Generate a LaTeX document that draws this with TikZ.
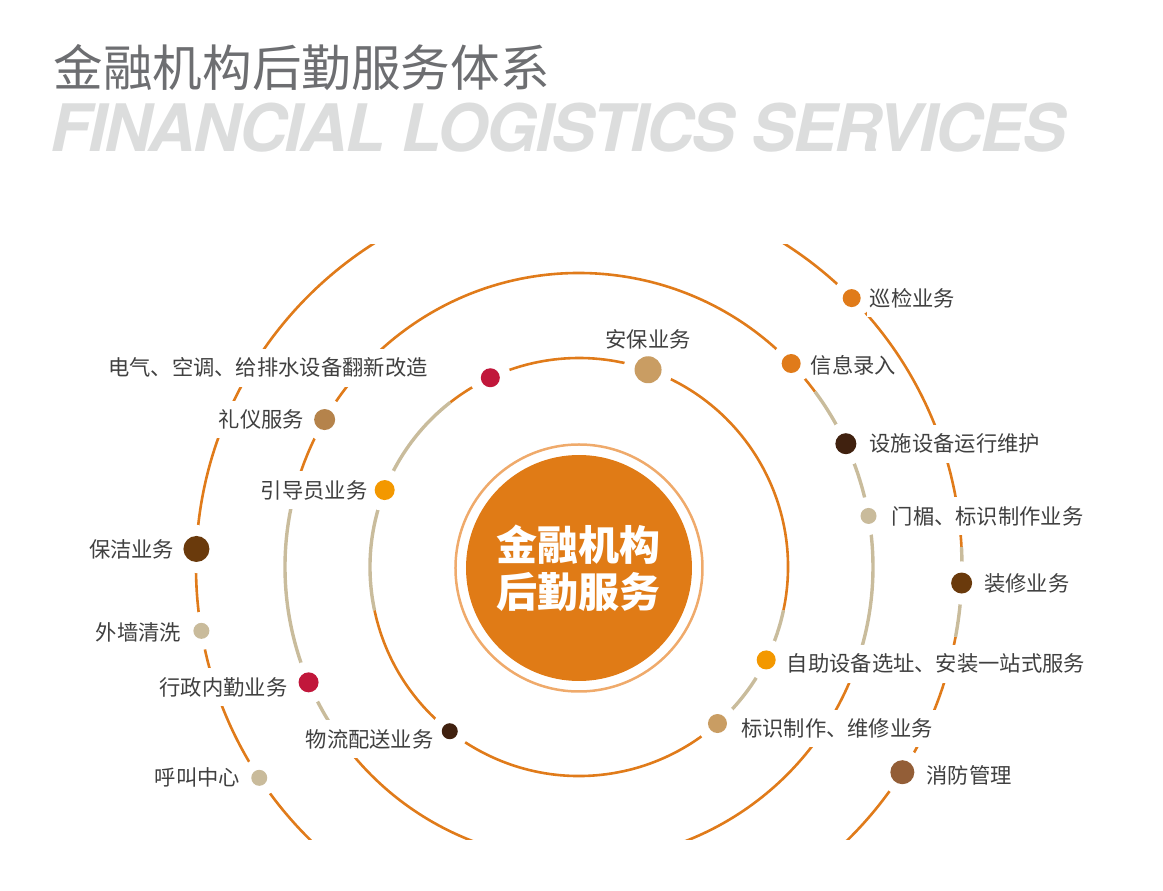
\documentclass[tikz,border=0pt]{standalone}
\usepackage{fontspec}
\newfontfamily\cjk{Noto Sans CJK SC}
\newfontfamily\heros[LetterSpace=-3.1]{TeX Gyre Heros}
\usetikzlibrary{positioning}

\definecolor{ringOrange}{HTML}{E07B1A}
\definecolor{ringBeige}{HTML}{C9BC9C}
\definecolor{coreOrange}{HTML}{E07B16}
\definecolor{coreRing}{HTML}{EFAA6B}
\definecolor{titleGray}{HTML}{6D6E71}
\definecolor{ghostGray}{HTML}{DCDDDD}
\definecolor{labelGray}{HTML}{404040}
\definecolor{dotRed}{HTML}{C1173B}
\definecolor{dotTan}{HTML}{C99D63}
\definecolor{dotAmber}{HTML}{F39800}
\definecolor{dotOrange}{HTML}{E07B1A}
\definecolor{dotDark}{HTML}{40210F}
\definecolor{dotBrown}{HTML}{6A3A0C}
\definecolor{dotCopper}{HTML}{B5834B}
\definecolor{dotRust}{HTML}{935E37}
\definecolor{dotSand}{HTML}{C9BB9B}

\tikzset{
  ringO/.style={ringOrange, line width=2.6pt},
  ringB/.style={ringBeige, line width=3.4pt},
  dot/.style={circle, inner sep=0pt, outer sep=0pt, preaction={draw=white, line width=22pt}},
  lbl/.style={fill=white, text=labelGray, inner xsep=3pt, inner ysep=9pt, font=\cjk\fontsize{21.3}{24}\selectfont},
}

\begin{document}
\begin{tikzpicture}[x=1pt, y=1pt]
    \useasboundingbox (-579,-324) rectangle (584,567);
    % heading
    \node[anchor=west, inner sep=0pt, text=titleGray, font=\cjk\fontsize{49.6}{50}\selectfont] (title) at (-525.5,499) {金融机构后勤服务体系};
    \node[anchor=base west, inner sep=0pt, text=ghostGray, font=\heros\bfseries\itshape\fontsize{65.5}{66}\selectfont] (subtitle) at (-529,415) {FINANCIAL LOGISTICS SERVICES};

    % rings
    \begin{scope}
    \clip (-579,-273) rectangle (584,322);
    % outer ring
    \draw[ringO] (3:383) arc[start angle=3, end angle=349.5, radius=383];
    \draw[ringB] (-10.5:383) arc[start angle=-10.5, end angle=3, radius=383];
    % middle ring
    \draw[ringO] (36.6:294) arc[start angle=36.6, end angle=165, radius=294];
    \draw[ringB] (165:294) arc[start angle=165, end angle=215, radius=294];
    \draw[ringO] (215:294) arc[start angle=215, end angle=340, radius=294];
    \draw[ringB] (340:294) arc[start angle=340, end angle=396.6, radius=294];
    % inner ring
    \draw[ringO] (-12:209) arc[start angle=-12, end angle=128, radius=209];
    \draw[ringB] (128:209) arc[start angle=128, end angle=192, radius=209];
    \draw[ringO] (192:209) arc[start angle=192, end angle=311.5, radius=209];
    \draw[ringB] (311.5:209) arc[start angle=311.5, end angle=348, radius=209];
    \end{scope}

    % centre
    \draw[coreRing, line width=2.5pt] (0,-1) circle (123.5);
    \node[circle, fill=coreOrange, minimum size=226pt, inner sep=0pt, text=white, align=center, font=\cjk\bfseries\fontsize{41}{47}\selectfont] (core) at (0,-1) {金融机构\\后勤服务};

    % inner ring dots
    \node[dot, fill=dotTan, minimum size=27pt] (anbao) at (70.7:209) {};
    \node[dot, fill=dotRed, minimum size=19pt] (fanxin) at (115.1:209) {};
    \node[dot, fill=dotAmber, minimum size=20pt] (yindao) at (158.4:209) {};
    \node[dot, fill=dotDark, minimum size=16pt] (wuliu) at (231.8:209) {};
    \node[dot, fill=dotTan, minimum size=19pt] (biaoshi) at (311.5:209) {};
    \node[dot, fill=dotAmber, minimum size=19pt] (zizhu) at (333.6:209) {};
    % middle ring dots
    \node[dot, fill=dotCopper, minimum size=21pt] (liyi) at (149.9:294) {};
    \node[dot, fill=dotRed, minimum size=20pt] (xingzheng) at (203.1:294) {};
    \node[dot, fill=dotOrange, minimum size=19pt] (xinxi) at (43.8:294) {};
    \node[dot, fill=dotDark, minimum size=21pt] (sheshi) at (24.8:294) {};
    \node[dot, fill=dotSand, minimum size=16pt] (menmei) at (10:294) {};
    % outer ring dots
    \node[dot, fill=dotOrange, minimum size=18pt] (xunjian) at (44.6:383) {};
    \node[dot, fill=dotBrown, minimum size=21pt] (zhuangxiu) at (-2.4:383) {};
    \node[dot, fill=dotRust, minimum size=24pt] (xiaofang) at (-32.4:383) {};
    \node[dot, fill=dotBrown, minimum size=26pt] (baojie) at (177.3:383) {};
    \node[dot, fill=dotSand, minimum size=16pt] (waiqiang) at (189.6:383) {};
    \node[dot, fill=dotSand, minimum size=16pt] (hujiao) at (213.4:383) {};

    % labels
    \node[lbl, fill=none, above=-2pt of anbao] (anbaoL) {安保业务};
    \node[lbl, left=50pt of fanxin, yshift=10pt] (fanxinL) {电气、空调、给排水设备翻新改造};
    \node[lbl, left=4pt of yindao] (yindaoL) {引导员业务};
    \node[lbl, left=5pt of wuliu, yshift=-8pt] (wuliuL) {物流配送业务};
    \node[lbl, right=11pt of biaoshi, yshift=-5pt] (biaoshiL) {标识制作、维修业务};
    \node[lbl, right=8pt of zizhu, yshift=-4pt] (zizhuL) {自助设备选址、安装一站式服务};
    \node[lbl, left=7pt of liyi] (liyiL) {礼仪服务};
    \node[lbl, left=8pt of xingzheng, yshift=-5pt] (xingzhengL) {行政内勤业务};
    \node[lbl, fill=none, right=7pt of xinxi, yshift=-1.5pt] (xinxiL) {信息录入};
    \node[lbl, right=10pt of sheshi] (sheshiL) {设施设备运行维护};
    \node[lbl, right=12pt of menmei] (menmeiL) {门楣、标识制作业务};
    \node[lbl, right=6pt of xunjian] (xunjianL) {巡检业务};
    \node[lbl, right=9pt of zhuangxiu] (zhuangxiuL) {装修业务};
    \node[lbl, right=9pt of xiaofang, yshift=-3pt] (xiaofangL) {消防管理};
    \node[lbl, left=6pt of baojie] (baojieL) {保洁业务};
    \node[lbl, left=9pt of waiqiang, yshift=-2pt] (waiqiangL) {外墙清洗};
    \node[lbl, left=8pt of hujiao] (hujiaoL) {呼叫中心};
\end{tikzpicture}
\end{document}
